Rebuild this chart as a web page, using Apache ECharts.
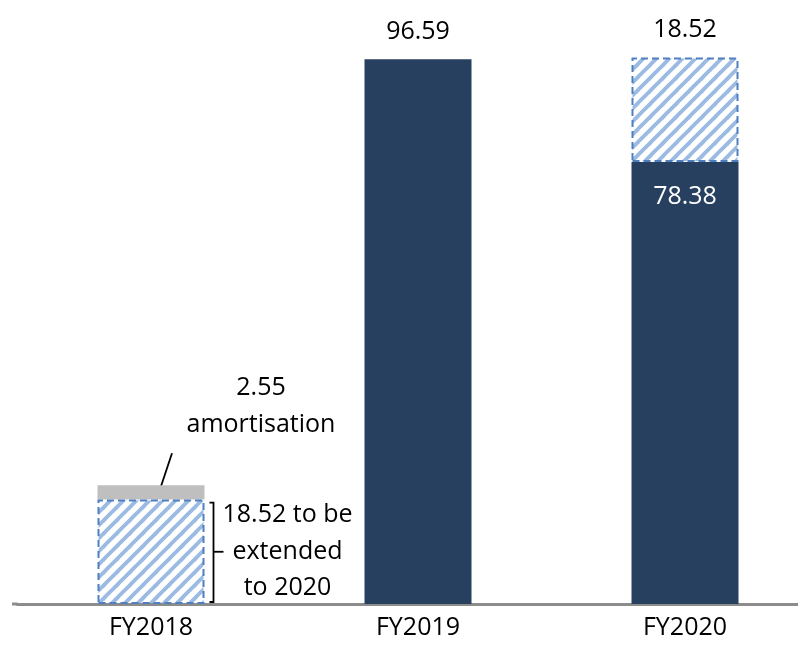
<!DOCTYPE html>
<html><head><meta charset="utf-8">
<script src="https://cdn.jsdelivr.net/npm/echarts@6/dist/echarts.min.js"></script>
<style>html,body{margin:0;padding:0;background:#fff}#c{width:798px;height:651px}</style>
</head><body><div id="c"></div>
<script>
const categories = ['FY2018', 'FY2019', 'FY2020'];
const committed = [null, 96.59, 78.38];
const extended = [18.52, null, 18.52];
const amortisation = [2.55, null, null];
const yMax = 100;

const FONT = '"Open Sans", "Noto Sans", sans-serif';
const FS = 25;
const DARK = '#27405F';

// diagonal hatch pattern
const s = 13;
const cv = document.createElement('canvas');
cv.width = s; cv.height = s;
const cx = cv.getContext('2d');
cx.fillStyle = '#ffffff'; cx.fillRect(0, 0, s, s);
cx.strokeStyle = '#9CBBE2'; cx.lineWidth = 3.8; cx.lineCap = 'square';
[[0, s, s, 0], [-s, s, 0, 0], [s, s * 2, s * 2, s], [-2, 2, 2, -2], [s - 2, s + 2, s + 2, s - 2]].forEach(function (l) {
  cx.beginPath(); cx.moveTo(l[0], l[1]); cx.lineTo(l[2], l[3]); cx.stroke();
});

const chart = echarts.init(document.getElementById('c'), null, { renderer: 'canvas' });
const option = {
  animation: false,
  backgroundColor: '#ffffff',
  grid: { left: 17.5, right: -20.5, top: 40, bottom: 47, containLabel: false, outerBoundsMode: 'none' },
  xAxis: {
    type: 'category', data: categories,
    axisLine: { lineStyle: { color: '#8C8C8C', width: 3 } },
    axisTick: { show: false },
    axisLabel: { color: '#000', fontSize: FS, fontFamily: FONT, margin: 11 }
  },
  yAxis: { type: 'value', min: 0, max: yMax, show: false, splitLine: { show: false } },
  series: [
    {
      name: 'committed', type: 'bar', stack: 'a', barWidth: 107,
      itemStyle: { color: DARK },
      data: committed.map(function (v, i) {
        if (v == null) return null;
        if (i === 1) return { value: v, label: { show: true, position: 'top', distance: 15, color: '#000' } };
        return { value: v, label: { show: true, position: 'insideTop', distance: 22, color: '#fff' } };
      }),
      label: { fontSize: FS, fontFamily: FONT },
      z: 2
    },
    {
      name: 'extended', type: 'bar', stack: 'a', barWidth: 107,
      itemStyle: { color: { image: cv, repeat: 'repeat' }, borderColor: '#4F7FBF', borderWidth: 2, borderType: [7, 4] },
      data: extended.map(function (v, i) {
        if (v == null) return null;
        if (i === 2) return { value: v, label: { show: true, position: 'top', distance: 15, color: '#000' } };
        return { value: v };
      }),
      label: { fontSize: FS, fontFamily: FONT },
      z: 3
    },
    {
      name: 'amortisation', type: 'bar', stack: 'a', barWidth: 107,
      itemStyle: { color: '#BFBFBF' },
      data: amortisation.map(function (v) { return v == null ? null : { value: v, itemStyle: { color: '#BFBFBF' } }; }),
      z: 2
    }
  ]
};
chart.setOption(option);

// annotations positioned from the chart's own scales
const half = 107 / 2;
const base = chart.convertToPixel({ xAxisIndex: 0, yAxisIndex: 0 }, [0, 0]);
const next = chart.convertToPixel({ xAxisIndex: 0, yAxisIndex: 0 }, [1, 0]);
const gridLeft = base[0] - (next[0] - base[0]) / 2;
const extTop = chart.convertToPixel({ xAxisIndex: 0, yAxisIndex: 0 }, [0, extended[0]]);
const amTop = chart.convertToPixel({ xAxisIndex: 0, yAxisIndex: 0 }, [0, extended[0] + amortisation[0]]);
const bx = base[0] + half + 9;
const midY = (base[1] + extTop[1]) / 2;
chart.setOption({
  graphic: [
    { type: 'line', shape: { x1: 12, y1: base[1], x2: gridLeft, y2: base[1] }, style: { stroke: '#8C8C8C', lineWidth: 3 } },
    { type: 'polyline', shape: { points: [[bx - 4, extTop[1] + 3], [bx, extTop[1] + 3], [bx, base[1] - 2], [bx - 4, base[1] - 2]] },
      style: { stroke: '#000', lineWidth: 1.8, fill: null } },
    { type: 'line', shape: { x1: bx, y1: midY, x2: bx + 10, y2: midY }, style: { stroke: '#000', lineWidth: 1.8 } },
    { type: 'text', x: bx + 74, y: midY, style: { text: extended[0].toFixed(2) + ' to be\nextended\nto 2020', fontSize: FS, fontFamily: FONT, fill: '#000', align: 'center', verticalAlign: 'middle', lineHeight: 36.5 } },
    { type: 'line', shape: { x1: amTop[0] + 8, y1: amTop[1] + 7, x2: amTop[0] + 21, y2: amTop[1] - 32 }, style: { stroke: '#000', lineWidth: 1.8 } },
    { type: 'text', x: amTop[0] + 110, y: amTop[1] - 79, style: { text: amortisation[0].toFixed(2) + '\namortisation', fontSize: FS, fontFamily: FONT, fill: '#000', align: 'center', verticalAlign: 'middle', lineHeight: 37 } }
  ]
});
</script></body></html>
